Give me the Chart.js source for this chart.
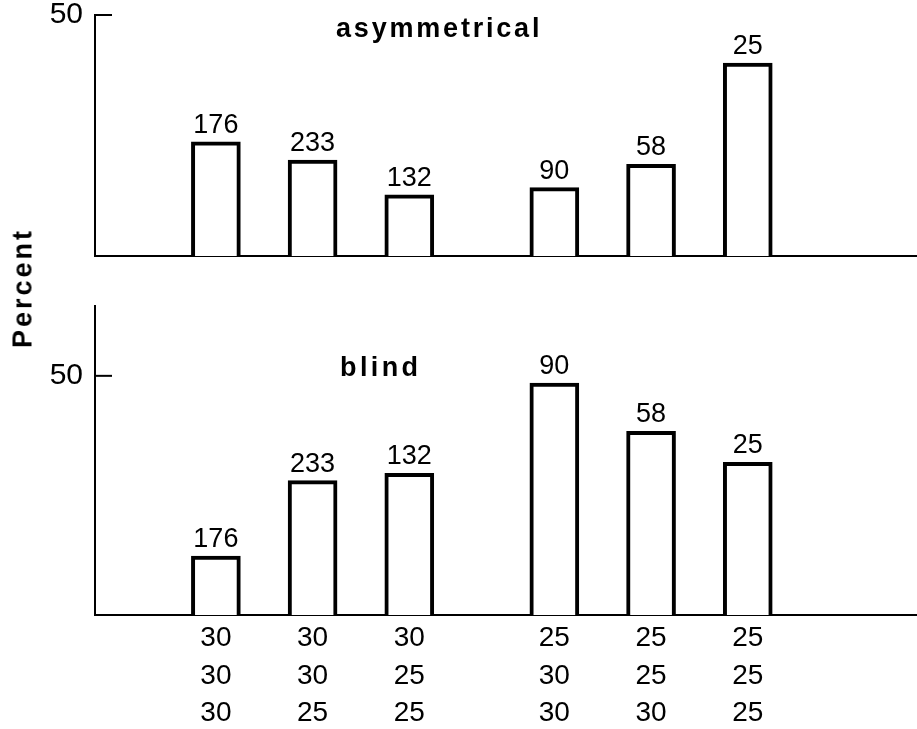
<!DOCTYPE html>
<html>
<head>
<meta charset="utf-8">
<script src="https://cdn.jsdelivr.net/npm/chart.js@4.4.1/dist/chart.umd.min.js"></script>
<style>
  html, body { margin:0; padding:0; background:#fff; }
  #wrap { position:relative; width:917px; height:729px; overflow:hidden; }
  #top { position:absolute; left:0; top:0; }
  #bottom { position:absolute; left:0; top:290px; }
  #ylabel {
    position:absolute; left:23px; top:288px; width:200px; text-align:center;
    transform: translate(-50%, -50%) rotate(-90deg);
    font: bold 27px "Liberation Sans", Arial, sans-serif; letter-spacing:3px; color:#000;
  }
</style>
</head>
<body>
<div id="wrap">
  <canvas id="top" width="917" height="290"></canvas>
  <canvas id="bottom" width="917" height="439"></canvas>
  <div id="ylabel">Percent</div>
</div>
<script>
// group positions on x (gap between the 30-groups and the 25-groups)
const groupPos = [1, 2, 3, 4.5, 5.5, 6.5];
const groupLabels = [
  ["30","30","30"], ["30","30","25"], ["30","25","25"],
  ["25","30","30"], ["25","25","30"], ["25","25","25"]
];
const counts = [176, 233, 132, 90, 58, 25];
const asymPct = [23.7, 19.9, 12.7, 14.2, 19.0, 40.0];
const blindPct = [12.3, 28.1, 29.6, 48.5, 38.4, 31.9];
const yTicks = [50];

const FONT = '"Liberation Sans", Arial, sans-serif';

// counts above each bar + inward y tick mark + panel title
const annot = {
  id: "annot",
  afterDatasetsDraw(chart, args, opts){
    const ctx = chart.ctx;
    const ys = chart.scales.y, area = chart.chartArea;
    ctx.save();
    ctx.fillStyle = "#000";
    ctx.font = "27px " + FONT;
    ctx.textAlign = "center";
    ctx.textBaseline = "alphabetic";
    chart.getDatasetMeta(0).data.forEach((bar, i) => {
      ctx.fillText(String(counts[i]), bar.x, bar.y - 9);
    });
    ctx.strokeStyle = "#000"; ctx.lineWidth = 2;
    for (const v of yTicks){
      const y = ys.getPixelForValue(v);
      ctx.beginPath(); ctx.moveTo(area.left, y); ctx.lineTo(area.left + 17, y); ctx.stroke();
    }
    ctx.font = "bold 27px " + FONT;
    ctx.textAlign = "left";
    ctx.letterSpacing = opts.spacing;
    ctx.fillText(opts.text, opts.x, opts.y);
    ctx.restore();
  }
};

function makeChart(id, vals, o){
  return new Chart(document.getElementById(id), {
    type: "bar",
    data: { datasets: [{
      data: groupPos.map((x, i) => ({ x, y: vals[i] })),
      backgroundColor: "#fff", borderColor: "#000", borderWidth: 4,
      barThickness: 49
    }]},
    plugins: [annot],
    options: {
      responsive: false, animation: false,
      layout: { padding: { top: o.padTop, left: 0, right: 0, bottom: 0 } },
      plugins: { legend: { display:false }, tooltip: { enabled:false }, annot: o.title },
      scales: {
        x: {
          type: "linear", min: -0.25, max: 8.25, offset: false,
          grid: { display:false, drawTicks:false },
          border: { display:true, color:"#000", width:2 },
          afterBuildTicks: (s) => { s.ticks = groupPos.map(v => ({ value: v })); },
          afterFit: (s) => { s.height = o.xHeight; },
          ticks: {
            display: o.showX, autoSkip:false, maxRotation:0, padding:5, color:"#000",
            font: { family: FONT, size: 28, lineHeight: 1.33 },
            callback: (v, i) => groupLabels[i]
          }
        },
        y: {
          min: 0, max: o.yMax,
          grid: { display:false, drawTicks:false },
          border: { display:true, color:"#000", width:2 },
          afterBuildTicks: (s) => { s.ticks = yTicks.map(v => ({ value: v })); },
          afterFit: (s) => { s.width = 95; s.paddingTop = 0; s.paddingBottom = 0; },
          ticks: { padding: 12, color:"#000", font: { family: FONT, size: 30 } }
        }
      }
    }
  });
}

makeChart("top", asymPct, {
  padTop: 15, xHeight: 34, yMax: 50, showX: false,
  title: { text: "asymmetrical", x: 336, y: 37, spacing: "2.8px" }
});
makeChart("bottom", blindPct, {
  padTop: 16, xHeight: 114, yMax: 64.6, showX: true,
  title: { text: "blind", x: 340, y: 86, spacing: "3.4px" }
});
</script>
</body>
</html>
